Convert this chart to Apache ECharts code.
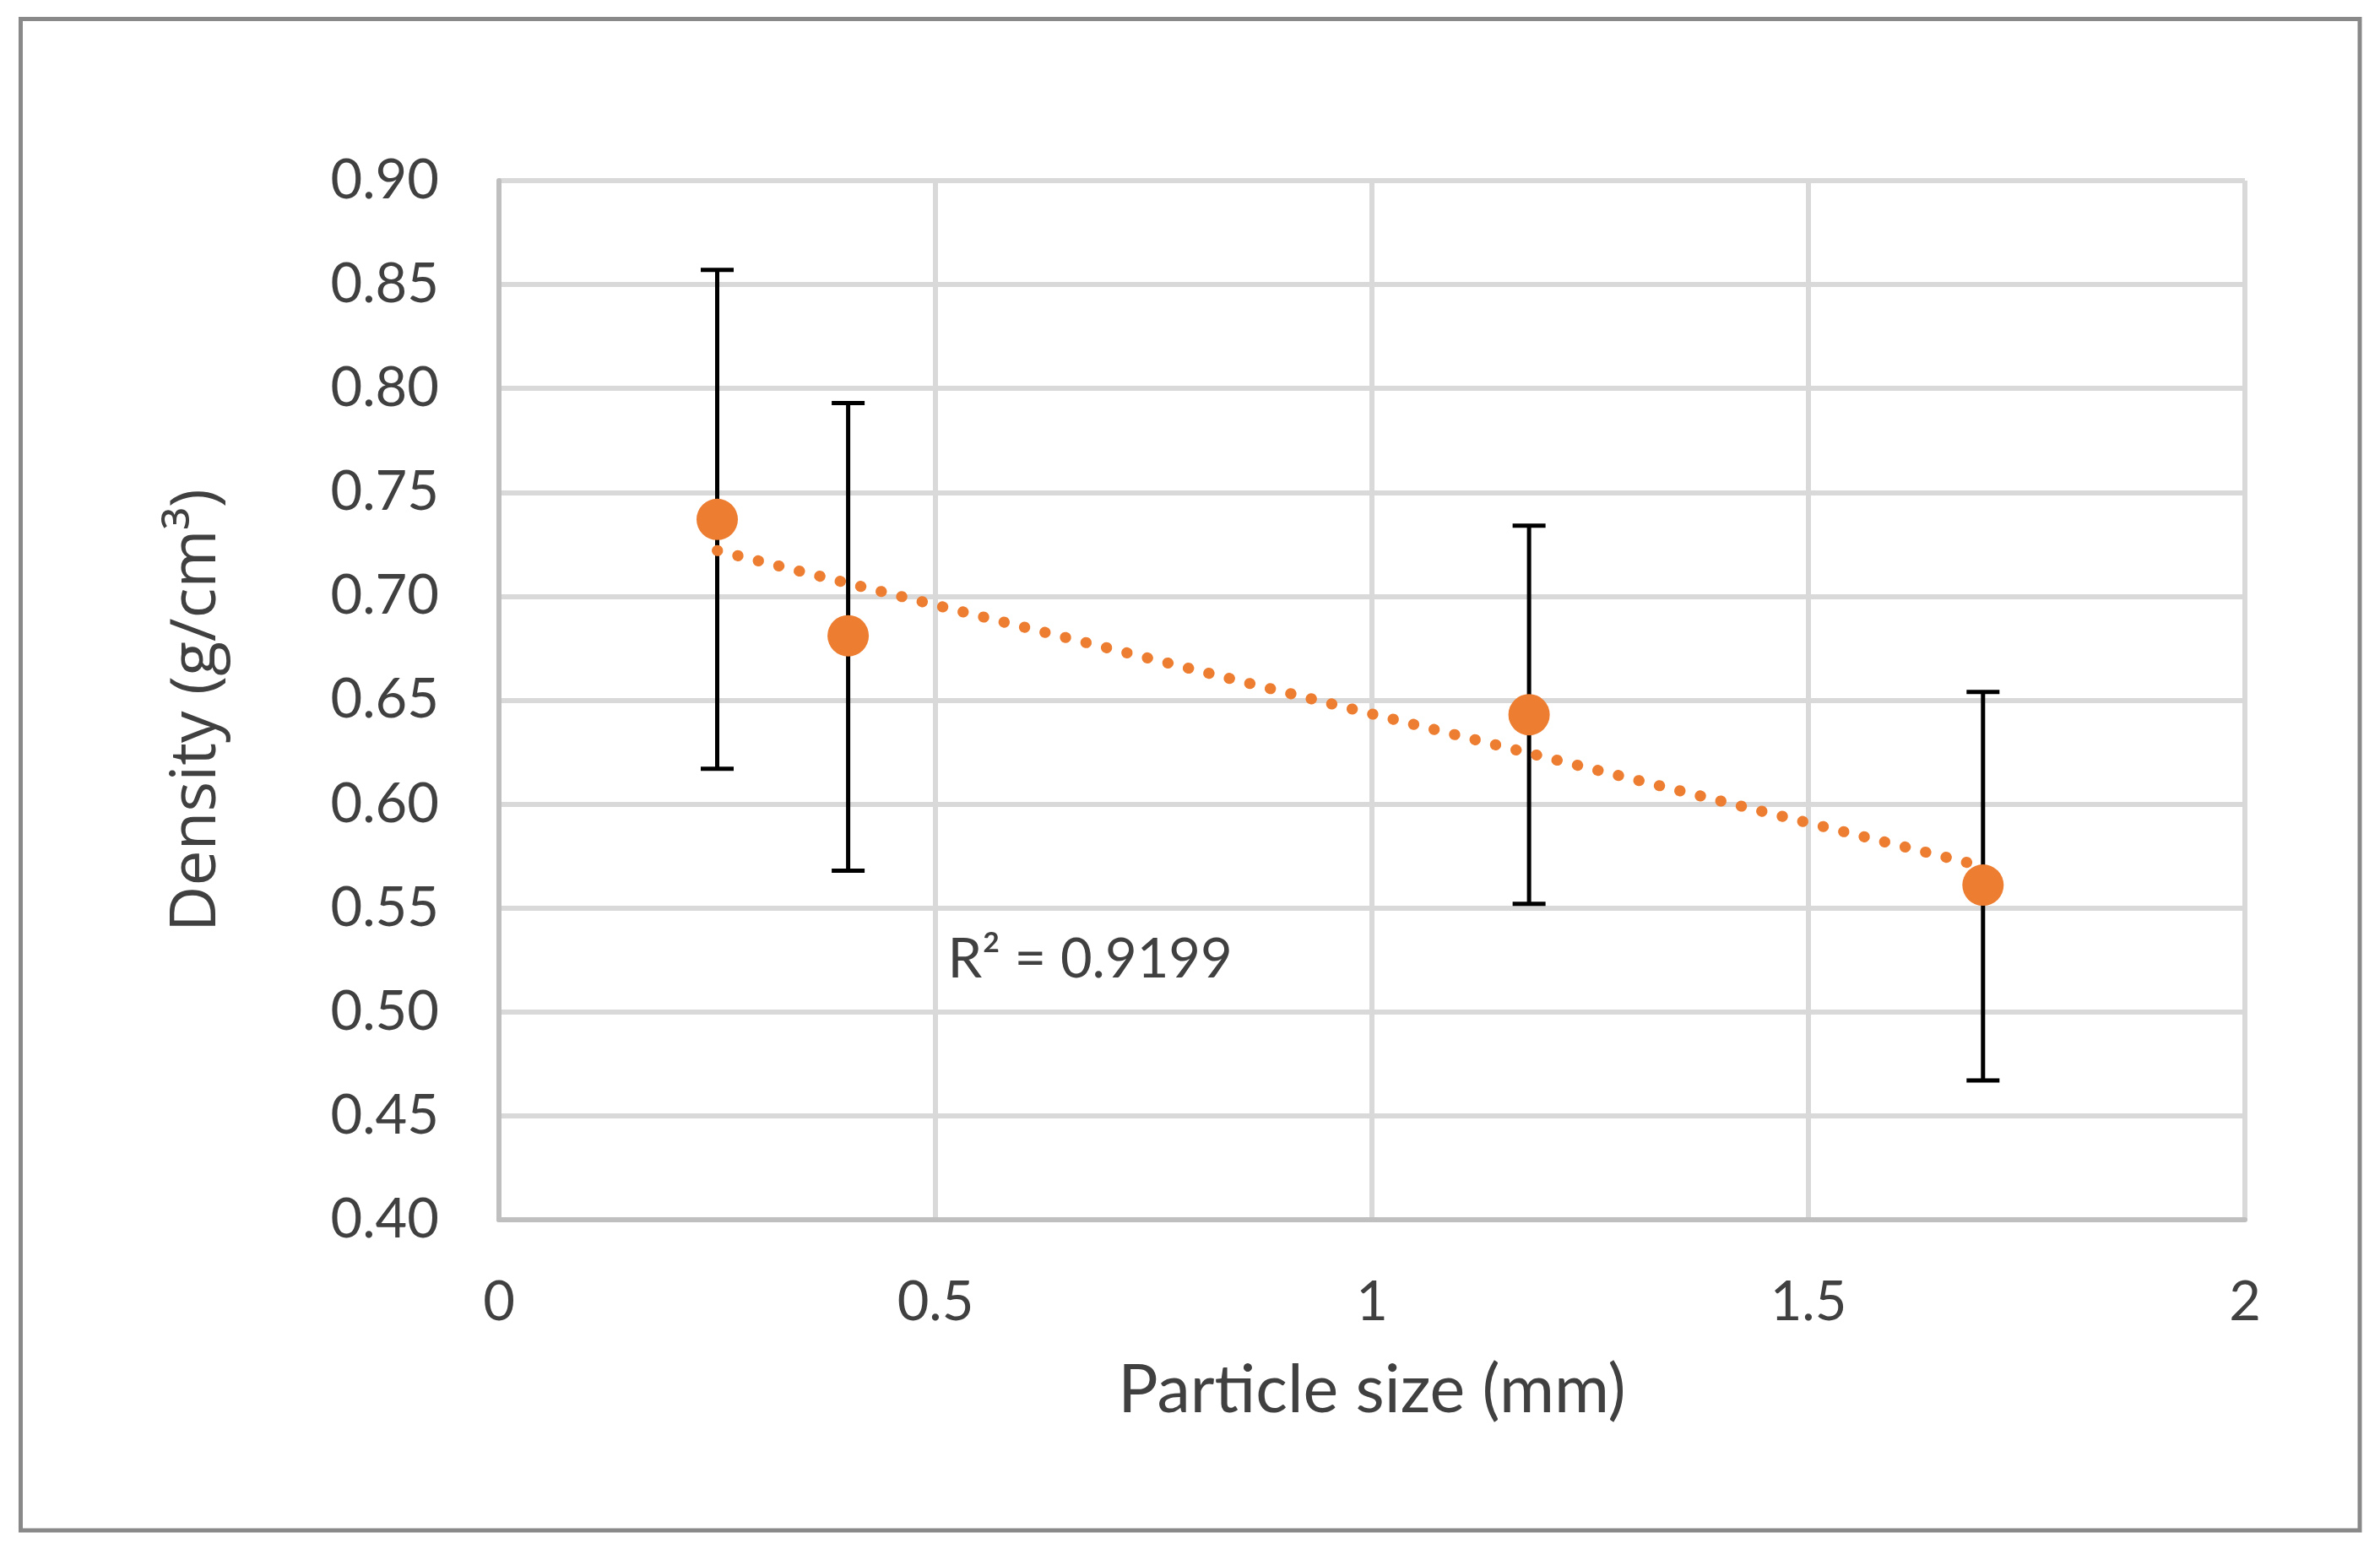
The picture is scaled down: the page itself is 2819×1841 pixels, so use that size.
<!DOCTYPE html>
<html>
<head>
<meta charset="utf-8">
<script src="https://cdn.jsdelivr.net/npm/echarts@6/dist/echarts.min.js"></script>
<style>
html,body{margin:0;padding:0;background:#fff;}
#chart{width:2819px;height:1841px;}
</style>
</head>
<body>
<div id="chart"></div>
<script>
// Data
const particleSize = [0.25, 0.40, 1.18, 1.70];
const density      = [0.737, 0.681, 0.643, 0.561];
const errUpper     = [0.857, 0.793, 0.734, 0.654];
const errLower     = [0.617, 0.568, 0.552, 0.467];
const trendX       = [0.25, 1.70];
const trendY       = [0.722, 0.570];
const r2Label      = 'R\u00B2 = 0.9199';
const r2Pos        = [0.514, 0.525];
const xTicks       = {min: 0, max: 2, interval: 0.5};
const yTicks       = {min: 0.40, max: 0.90, interval: 0.05};

const chart = echarts.init(document.getElementById('chart'), null, {renderer: 'canvas'});

const points = particleSize.map((x, i) => [x, density[i]]);
const errData = particleSize.map((x, i) => [x, errLower[i], errUpper[i]]);
const trendData = trendX.map((x, i) => [x, trendY[i]]);

const labelColor = '#404040';
const option = {
  animation: false,
  backgroundColor: '#ffffff',
  graphic: [{
    type: 'rect',
    shape: {x: 24.5, y: 22.5, width: 2770.5, height: 1790.5},
    style: {fill: 'none', stroke: '#898989', lineWidth: 5},
    silent: true, z: -10
  }],
  grid: {left: 591, right: 160, top: 214, bottom: 396, containLabel: false},
  xAxis: {
    type: 'value',
    min: xTicks.min, max: xTicks.max, interval: xTicks.interval,
    name: 'Particle size (mm)',
    nameLocation: 'middle',
    nameGap: 163,
    nameTextStyle: {fontFamily: 'Lato', fontSize: 79, color: labelColor},
    axisLine: {show: true, lineStyle: {color: '#bfbfbf', width: 6}},
    axisTick: {show: false},
    splitLine: {show: true, lineStyle: {color: '#d9d9d9', width: 6}},
    axisLabel: {
      fontFamily: 'Lato', fontSize: 65, color: labelColor, margin: 66,
      formatter: v => String(+v.toFixed(2))
    }
  },
  yAxis: {
    type: 'value',
    min: yTicks.min, max: yTicks.max, interval: yTicks.interval,
    name: 'Density (g/cm\u00B3)',
    nameLocation: 'middle',
    nameGap: 320,
    nameTextStyle: {fontFamily: 'Open Sans', fontSize: 75, color: labelColor, padding: [0, 24, 0, 0]},
    axisLine: {show: true, lineStyle: {color: '#bfbfbf', width: 6}},
    axisTick: {show: false},
    splitLine: {show: true, lineStyle: {color: '#d9d9d9', width: 6}},
    axisLabel: {
      fontFamily: 'Lato', fontSize: 65, color: labelColor, margin: 71,
      formatter: v => v.toFixed(2)
    }
  },
  series: [
    {
      type: 'custom',
      name: 'error',
      z: 2,
      data: errData,
      renderItem: function (params, api) {
        const x = api.value(0);
        const lo = api.coord([x, api.value(1)]);
        const hi = api.coord([x, api.value(2)]);
        const hw = 19.5;
        const st = {stroke: '#000000', lineWidth: 5};
        return {
          type: 'group',
          children: [
            {type: 'line', shape: {x1: lo[0], y1: lo[1], x2: hi[0], y2: hi[1]}, style: st},
            {type: 'line', shape: {x1: hi[0] - hw, y1: hi[1], x2: hi[0] + hw, y2: hi[1]}, style: st},
            {type: 'line', shape: {x1: lo[0] - hw, y1: lo[1], x2: lo[0] + hw, y2: lo[1]}, style: st}
          ]
        };
      }
    },
    {
      type: 'line',
      name: 'trend',
      z: 3,
      data: trendData,
      symbol: 'none',
      lineStyle: {color: '#ED7D31', width: 13, type: [0.5, 24.5], cap: 'round'},
      markPoint: {
        symbol: 'circle', symbolSize: 0,
        data: [{coord: r2Pos, value: r2Label}],
        label: {
          show: true, position: 'right', distance: 0,
          formatter: r2Label,
          fontFamily: 'Lato', fontSize: 65, color: labelColor
        },
        silent: true
      }
    },
    {
      type: 'scatter',
      name: 'density',
      z: 4,
      data: points,
      symbol: 'circle',
      symbolSize: 49,
      itemStyle: {color: '#ED7D31', opacity: 1}
    }
  ]
};
chart.setOption(option);
</script>
</body>
</html>
